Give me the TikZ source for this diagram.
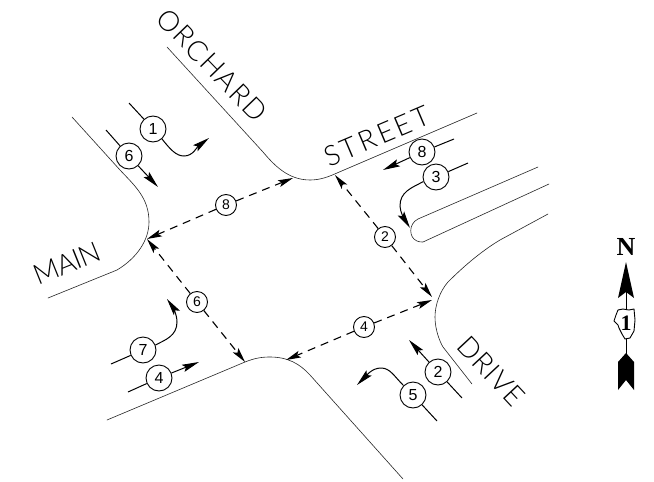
\documentclass[tikz,border=0pt]{standalone}
\usepackage{fontspec}
\setmainfont{Liberation Sans}
\newfontfamily\cadfont{Lato Light}
\newfontfamily\northfont{Liberation Serif}
\usetikzlibrary{arrows.meta}
\tikzset{
  roadline/.style={line width=0.6pt,draw=black!85,line cap=round},
  bigmark/.style={circle,draw,line width=0.9pt,fill=white,minimum size=26pt,inner sep=0pt,font=\fontsize{16}{16}\selectfont},
  smallmark/.style={circle,draw,line width=0.9pt,fill=white,minimum size=21pt,inner sep=0pt,font=\fontsize{14}{14}\selectfont},
  moveline/.style={line width=1pt,-{Stealth[length=17pt,width=7.5pt,inset=3pt]}},
  stubline/.style={line width=1pt},
  walkline/.style={line width=1.1pt,dash pattern=on 8pt off 6pt,-{Stealth[length=15pt,width=7pt,inset=3pt]}},
  streetname/.style={font=\cadfont\fontsize{28}{28}\selectfont,inner sep=0pt},
}
\begin{document}
\begin{tikzpicture}[x=1pt,y=-1pt]
\useasboundingbox (0,0) rectangle (654,482);
\fill[white] (0,0) rectangle (654,482);
% kerbs
\draw[roadline] (167,47) -- (263,152) .. controls (274,165) and (288,180) .. (310,180) .. controls (320,180) and (328,177) .. (337,173) -- (477,113);
\draw[roadline] (72,117) -- (120,170) .. controls (135,186) and (149,198) .. (149,222) .. controls (149,240) and (137,258) .. (117,270) -- (48,298);
\draw[roadline] (107,420) -- (245,362) .. controls (255,358) and (262,357) .. (270,357) .. controls (288,357) and (300,364) .. (310,375) -- (403,479);
\draw[roadline] (548,214) -- (500,240) .. controls (480,252) and (462,268) .. (448,282) .. controls (440,291) and (435,305) .. (435,317) .. controls (435,330) and (440,342) .. (443,347) -- (472,384);
\draw[roadline] (538,167) -- (418,219) .. controls (408,224) and (409,238) .. (417,241) .. controls (419,242) and (421,242) .. (423,242) -- (549,184);
% street names
\node[streetname,rotate=-46] (orchard) at (212,65) {\addfontfeatures{LetterSpace=5}ORCHARD};
\node[streetname,rotate=23] (streetlabel) at (377,136) {\addfontfeatures{LetterSpace=11}STREET};
\node[streetname,rotate=22] (mainname) at (67,263) {\addfontfeatures{LetterSpace=-3}MAIN};
\node[streetname,rotate=-47] (drivename) at (491,371) {\addfontfeatures{LetterSpace=3}DRIVE};
% corners of the crossing
\coordinate (cW) at (147,239);
\coordinate (cN) at (293,178);
\coordinate (cNE) at (335,175);
\coordinate (cE1) at (432,297);
\coordinate (cE2) at (432,300);
\coordinate (cS1) at (245,362);
\coordinate (cS2) at (286,360);
% crossing markers
\node[smallmark] (x8) at (226,205) {8};
\node[smallmark] (x2) at (385,237) {2};
\node[smallmark] (x4) at (364,327) {4};
\node[smallmark] (x6) at (197,302) {6};
\draw[walkline] (x8) -- (cW);
\draw[walkline] (x8) -- (cN);
\draw[walkline] (x2) -- (cNE);
\draw[walkline] (x2) -- (cE1);
\draw[walkline] (x4) -- (cE2);
\draw[walkline] (x4) -- (cS2);
\draw[walkline] (x6) -- (cW);
\draw[walkline] (x6) -- (cS1);
% movements
\node[bigmark] (m1) at (153,129) {1};
\node[bigmark] (m6) at (129,156) {6};
\node[bigmark] (m8) at (422,152) {8};
\node[bigmark] (m3) at (436,177) {3};
\node[bigmark] (m7) at (143,350) {7};
\node[bigmark] (m4) at (159,378) {4};
\node[bigmark] (m2) at (438,372) {2};
\node[bigmark] (m5) at (413,395) {5};
\coordinate (s1) at (129,103);
\coordinate (s6) at (106,130);
\coordinate (s8) at (454,139);
\coordinate (s3) at (468,163);
\coordinate (s7) at (111,364);
\coordinate (s4) at (128,392);
\coordinate (s2) at (462,398);
\coordinate (s5) at (437,421);
\coordinate (t1) at (209,138);
\coordinate (t6) at (158,187);
\coordinate (t8) at (383,170);
\coordinate (t3) at (410,228);
\coordinate (t7) at (167,299);
\coordinate (t4) at (199,362);
\coordinate (t2) at (409,340);
\coordinate (t5) at (357,385);
\foreach \a/\b in {s1/m1,s6/m6,s8/m8,s3/m3,s7/m7,s4/m4,s2/m2,s5/m5}{\draw[stubline] (\a) -- (\b);}
\draw[moveline] (m6) -- (t6);
\draw[moveline] (m8) -- (t8);
\draw[moveline] (m4) -- (t4);
\draw[moveline] (m2) -- (t2);
\draw[moveline] (m1.-48) .. controls (170,149) and (176,156) .. (184,156) .. controls (193,156) and (197,147) .. (t1);
\draw[moveline] (m3.200) .. controls (411,188) and (400,192) .. (400,206) .. controls (400,212) and (405,220) .. (t3);
\draw[moveline] (m7.22) .. controls (165,340) and (177,336) .. (177,322) .. controls (177,314) and (172,306) .. (t7);
\draw[moveline] (m5.135) .. controls (394,376) and (390,368) .. (381,368) .. controls (372,368) and (366,376) .. (t5);
% north arrow
\node[font=\northfont\bfseries\fontsize{26}{26}\selectfont,inner sep=0pt] (northN) at (626,247) {N};
\coordinate (shaftTop) at (626,280);
\coordinate (shaftEnd) at (626,356);
\draw[line width=1pt] (shaftTop) -- (shaftEnd);
\fill (626,262) -- (634,298) -- (626,292) -- (618,298) -- cycle;
\fill (626,353) -- (634,362) -- (634,390) -- (626,380) -- (618,390) -- (618,362) -- cycle;
\draw[line width=0.9pt,fill=white,line join=round] (618,310) -- (623,309) -- (629,310) -- (634,309) -- (635,320) -- (634,331) -- (630,338) -- (625,339) -- (622,334) -- (619,328) -- (618,325) -- (614,321) -- (616,315) -- cycle;
\node[font=\northfont\bfseries\fontsize{22}{22}\selectfont,inner sep=0pt] (northone) at (626,323) {1};
\end{tikzpicture}
\end{document}
